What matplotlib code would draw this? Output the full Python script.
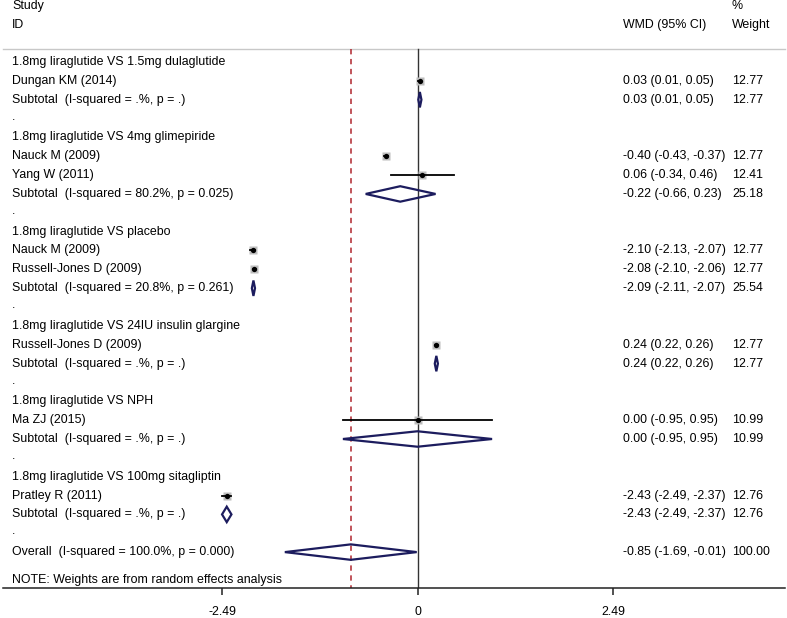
import matplotlib
matplotlib.use("Agg")
import matplotlib.pyplot as plt
import matplotlib.transforms as mtransforms
from matplotlib.patches import Polygon

plt.rcParams['font.family'] = ['Liberation Sans', 'DejaVu Sans']

# ---------------- data ----------------
group_names = [
    "1.8mg liraglutide VS 1.5mg dulaglutide",
    "1.8mg liraglutide VS 4mg glimepiride",
    "1.8mg liraglutide VS placebo",
    "1.8mg liraglutide VS 24IU insulin glargine",
    "1.8mg liraglutide VS NPH",
    "1.8mg liraglutide VS 100mg sitagliptin",
]
study_names = ["Dungan KM (2014)", "Nauck M (2009)", "Yang W (2011)",
               "Nauck M (2009)", "Russell-Jones D (2009)",
               "Russell-Jones D (2009)", "Ma ZJ (2015)", "Pratley R (2011)"]
study_group = [0, 1, 1, 2, 2, 3, 4, 5]
study_wmd = [0.03, -0.40, 0.06, -2.10, -2.08, 0.24, 0.00, -2.43]
study_lo = [0.01, -0.43, -0.34, -2.13, -2.10, 0.22, -0.95, -2.49]
study_hi = [0.05, -0.37, 0.46, -2.07, -2.06, 0.26, 0.95, -2.37]
study_weight = [12.77, 12.77, 12.41, 12.77, 12.77, 12.77, 10.99, 12.76]

sub_labels = ["Subtotal  (I-squared = .%, p = .)",
              "Subtotal  (I-squared = 80.2%, p = 0.025)",
              "Subtotal  (I-squared = 20.8%, p = 0.261)",
              "Subtotal  (I-squared = .%, p = .)",
              "Subtotal  (I-squared = .%, p = .)",
              "Subtotal  (I-squared = .%, p = .)"]
sub_wmd = [0.03, -0.22, -2.09, 0.24, 0.00, -2.43]
sub_lo = [0.01, -0.66, -2.11, 0.22, -0.95, -2.49]
sub_hi = [0.05, 0.23, -2.07, 0.26, 0.95, -2.37]
sub_weight = [12.77, 25.18, 25.54, 12.77, 10.99, 12.76]

overall_label = "Overall  (I-squared = 100.0%, p = 0.000)"
overall_wmd, overall_lo, overall_hi, overall_weight = -0.85, -1.69, -0.01, 100.00

note_text = "NOTE: Weights are from random effects analysis"
xtick_vals = [-2.49, 0, 2.49]
xtick_labels = ["-2.49", "0", "2.49"]

# ---------------- figure ----------------
W, H = 787, 618
fig = plt.figure(figsize=(W / 100, H / 100), dpi=100)
x0_px, x1_px = 3, 785
bottom_px = 588
ax = fig.add_axes([x0_px / W, (H - bottom_px) / H, (x1_px - x0_px) / W, bottom_px / H])

zero_px, scale = 417.5, 78.5
ax.set_xlim((x0_px - zero_px) / scale, (x1_px - zero_px) / scale)
row0_px, row_h = 62, 18.85
ax.set_ylim((bottom_px - row0_px) / row_h, -row0_px / row_h)

fs = 8.9
for s in ['top', 'left', 'right']:
    ax.spines[s].set_visible(False)
ax.spines['bottom'].set_linewidth(1.1)
ax.spines['bottom'].set_color('#222222')
ax.set_yticks([])
ax.set_xticks(xtick_vals)
ax.set_xticklabels(xtick_labels)
ax.tick_params(axis='x', direction='out', length=5, width=1.1, pad=8,
               labelsize=fs, color='#222222')

trans = mtransforms.blended_transform_factory(ax.transAxes, ax.transData)
xl = (12 - x0_px) / (x1_px - x0_px)
xw = (623 - x0_px) / (x1_px - x0_px)
xp = (732 - x0_px) / (x1_px - x0_px)

def txt(x, y, s):
    ax.text(x, y, s, transform=trans, fontsize=fs, va='center', ha='left', color='black')

# header
txt(xl, -2.97, "Study")
txt(xl, -1.96, "ID")
txt(xp, -2.97, "%")
txt(xp, -1.96, "Weight")
txt(xw, -1.96, "WMD (95% CI)")
line_top = -0.69
ax.plot([ax.get_xlim()[0], ax.get_xlim()[1]], [line_top, line_top], color='#c8c8c8', lw=1.0,
        clip_on=False)

ybot = ax.get_ylim()[0]
ax.plot([0, 0], [line_top, ybot], color='#333333', lw=1.0, zorder=2)
ax.plot([overall_wmd, overall_wmd], [line_top, ybot], color='#b0262e', lw=1.1,
        ls=(0, (3.5, 3.0)), zorder=2)

navy = '#1c1c5e'
dh = 0.41

def diamond(est, lo, hi, y):
    poly = Polygon([(lo, y), (est, y - dh), (hi, y), (est, y + dh)], closed=True,
                   fill=False, edgecolor=navy, lw=1.6, zorder=4)
    ax.add_patch(poly)

def fmt(e, l, h):
    return f"{e:.2f} ({l:.2f}, {h:.2f})"

r = 0
for g, gname in enumerate(group_names):
    txt(xl, r, gname)
    r += 1
    for i in range(len(study_names)):
        if study_group[i] != g:
            continue
        txt(xl, r, study_names[i])
        ms = 1.75 * study_weight[i] ** 0.5
        ax.plot([study_wmd[i]], [r], marker='s', ms=ms, color='#bdbdbd', mec='none', zorder=3)
        ax.plot([study_lo[i], study_hi[i]], [r, r], color='black', lw=1.3, zorder=4)
        ax.plot([study_wmd[i]], [r], marker='o', ms=3.8, color='black', mec='none', zorder=5)
        txt(xw, r, fmt(study_wmd[i], study_lo[i], study_hi[i]))
        txt(xp, r, f"{study_weight[i]:.2f}")
        r += 1
    txt(xl, r, sub_labels[g])
    diamond(sub_wmd[g], sub_lo[g], sub_hi[g], r)
    txt(xw, r, fmt(sub_wmd[g], sub_lo[g], sub_hi[g]))
    txt(xp, r, f"{sub_weight[g]:.2f}")
    r += 1
    txt(xl, r - 0.1, ".")
    r += 1

txt(xl, r, overall_label)
diamond(overall_wmd, overall_lo, overall_hi, r)
txt(xw, r, fmt(overall_wmd, overall_lo, overall_hi))
txt(xp, r, f"{overall_weight:.2f}")
txt(xl, r + 1.48, note_text)

fig.savefig("out.png", dpi=100)
